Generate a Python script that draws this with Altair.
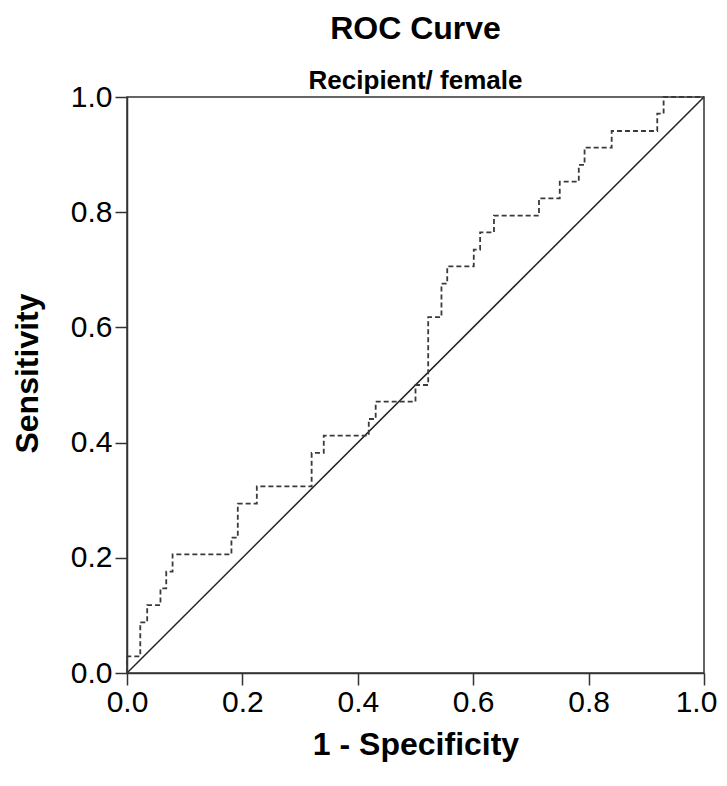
import altair as alt
import pandas as pd

# ROC curve vertices (1 - specificity, sensitivity)
fpr = [0.000, 0.000, 0.023, 0.035, 0.058, 0.068, 0.079, 0.181, 0.192, 0.225,
       0.320, 0.341, 0.419, 0.431, 0.500, 0.522, 0.545, 0.555, 0.601, 0.612,
       0.636, 0.714, 0.750, 0.783, 0.793, 0.840, 0.919, 0.930, 1.000]
sens = [0.000, 0.029, 0.088, 0.118, 0.147, 0.176, 0.206, 0.235, 0.294, 0.324,
        0.382, 0.412, 0.441, 0.471, 0.500, 0.618, 0.676, 0.706, 0.735, 0.765,
        0.794, 0.824, 0.853, 0.882, 0.912, 0.941, 0.971, 1.000, 1.000]

diag_x = [0.0, 1.0]
diag_y = [0.0, 1.0]

tick_vals = [0.0, 0.2, 0.4, 0.6, 0.8, 1.0]

roc_df = pd.DataFrame({"fpr": fpr, "sens": sens, "order": list(range(len(fpr)))})
diag_df = pd.DataFrame({"fpr": diag_x, "sens": diag_y})

FONT = "Liberation Sans, Arial, sans-serif"

xs = alt.Scale(domain=[0, 1], nice=False, zero=False)
ys = alt.Scale(domain=[0, 1], nice=False, zero=False)

x_axis = alt.Axis(values=tick_vals, format=".1f", title="1 - Specificity",
                  grid=False, tickSize=12, labelPadding=2, titlePadding=12,
                  labelOffset={"condition": {"test": "datum.value >= 1", "value": -8},
                               "value": 0})
y_axis = alt.Axis(values=tick_vals, format=".1f", title="Sensitivity",
                  grid=False, tickSize=12, labelPadding=3, titlePadding=26,
                  titleY=276)

diag = alt.Chart(diag_df).mark_line(color="#222222", strokeWidth=1.5).encode(
    x=alt.X("fpr:Q", scale=xs, axis=x_axis),
    y=alt.Y("sens:Q", scale=ys, axis=y_axis),
)

roc = alt.Chart(roc_df).mark_line(
    color="#3a3a3a", strokeWidth=1.8, strokeDash=[5, 3], interpolate="step-after"
).encode(
    x=alt.X("fpr:Q", scale=xs),
    y=alt.Y("sens:Q", scale=ys),
    order="order:Q",
)

chart = alt.layer(diag, roc).properties(
    width=577,
    height=576,
    padding={"left": 119, "top": 89, "right": 15, "bottom": 95},
    autosize=alt.AutoSizeParams(type="none"),
    title=alt.TitleParams(
        text="ROC Curve",
        subtitle="Recipient/ female",
        anchor="middle",
        font=FONT,
        fontSize=32,
        fontWeight="bold",
        color="black",
        subtitleFont=FONT,
        subtitleFontSize=26,
        subtitleFontWeight="bold",
        subtitleColor="black",
        subtitlePadding=22,
        offset=-13,
    ),
).configure_view(
    stroke="#333333", strokeWidth=1.5
).configure_axis(
    domainColor="#333333", domainWidth=1.5, tickColor="#333333", tickWidth=1.5,
    labelFont=FONT, labelFontSize=30, labelColor="black",
    titleFont=FONT, titleFontSize=32, titleFontWeight="bold", titleColor="black",
    labelFlush=False,
)

chart.save("out.html", embed_options={"renderer": "svg", "actions": False})
